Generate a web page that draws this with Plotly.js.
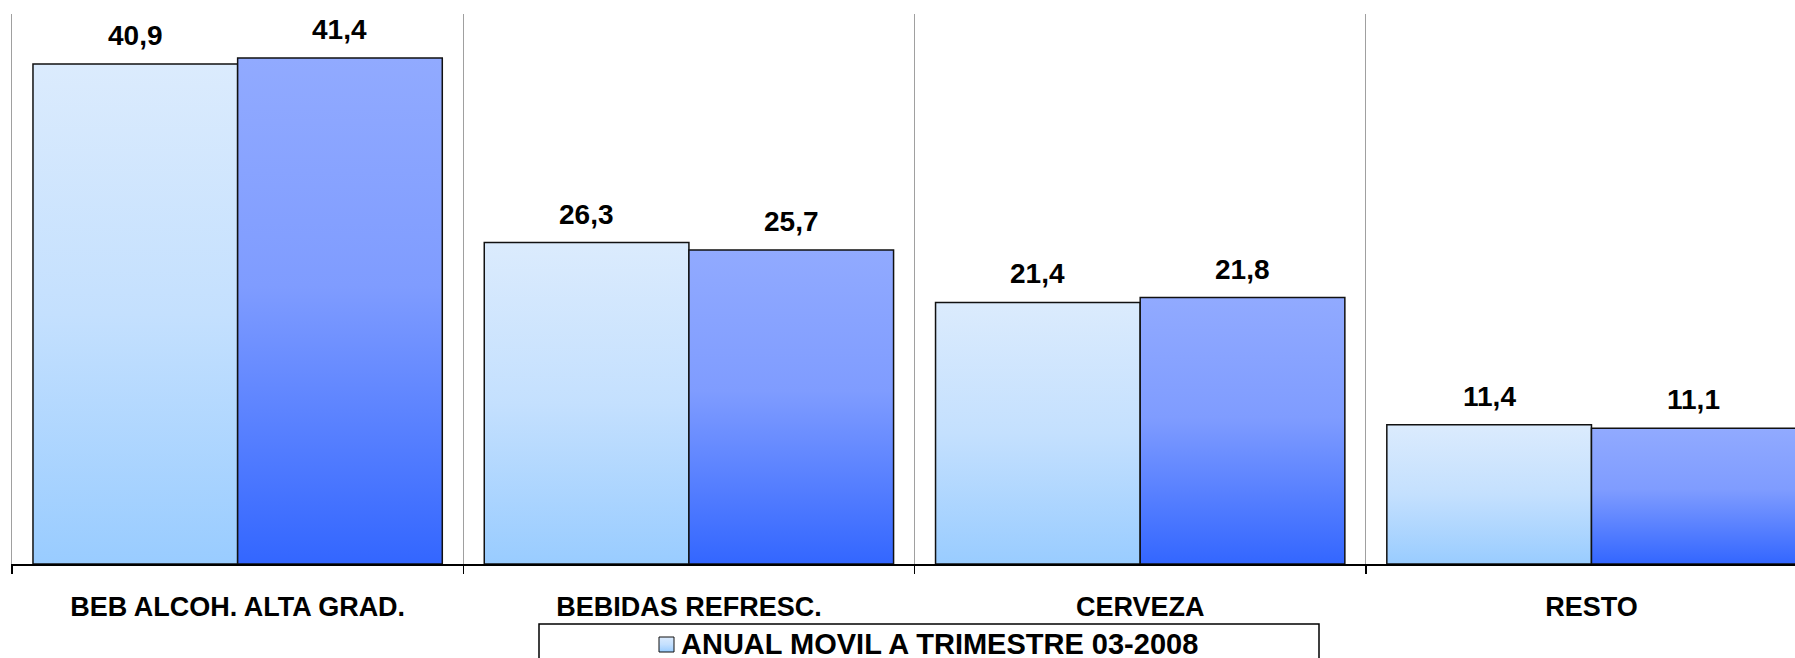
<!DOCTYPE html>
<html>
<head>
<meta charset="utf-8">
<script src="https://cdn.plot.ly/plotly-3.0.1.min.js"></script>
<style>
  html, body { margin: 0; padding: 0; background: #ffffff; overflow: hidden; }
  #chart { width: 1795px; height: 658px; }
</style>
</head>
<body>
<svg width="0" height="0" style="position:absolute">
  <defs>
    <linearGradient id="gradLight" x1="0" y1="0" x2="0" y2="1">
      <stop offset="0" stop-color="#dbebfd"/>
      <stop offset="0.5" stop-color="#c4e0fe"/>
      <stop offset="1" stop-color="#99ccff"/>
    </linearGradient>
    <linearGradient id="gradDark" x1="0" y1="0" x2="0" y2="1">
      <stop offset="0" stop-color="#91aaff"/>
      <stop offset="0.45" stop-color="#7f9cff"/>
      <stop offset="1" stop-color="#3366ff"/>
    </linearGradient>
  </defs>
</svg>
<div id="chart"></div>
<script>
// ---- data ----
const categories = ['BEB ALCOH. ALTA GRAD.', 'BEBIDAS REFRESC.', 'CERVEZA', 'RESTO'];
const series1Name = 'ANUAL MOVIL A TRIMESTRE 03-2008';
const series1 = [40.9, 26.3, 21.4, 11.4];
const series2Name = 'Serie 2';
const series2 = [41.4, 25.7, 21.8, 11.1];

// ---- style ----
const FONT = 'Arial, "Liberation Sans", sans-serif';
const BARGAP = 0.093;
const barHalf = (1 - BARGAP) / 4; // center offset of each bar in a group of 2
const fmt = v => v.toFixed(1).replace('.', ',');
// plot-area geometry (px) used to place the hand-made legend
const PL = 12, PW = 1783, PB = 564, PH = 550;
const px2x = p => (p - PL) / PW;
const px2y = p => (PB - p) / PH;

const traces = [
  {
    type: 'bar', name: series1Name, x: categories, y: series1,
    marker: { color: '#c4e0fe', line: { color: '#111111', width: 1.5 } },
    hoverinfo: 'skip', showlegend: false
  },
  {
    type: 'bar', name: series2Name, x: categories, y: series2,
    marker: { color: '#7f9cff', line: { color: '#111111', width: 1.5 } },
    hoverinfo: 'skip', showlegend: false
  }
];

const annotations = [];
[series1, series2].forEach((s, si) => {
  s.forEach((v, i) => {
    annotations.push({
      x: i + (si === 0 ? -barHalf : barHalf), y: v, xref: 'x', yref: 'y',
      text: fmt(v), showarrow: false, yanchor: 'bottom', yshift: 11,
      font: { family: FONT, size: 28, color: '#000000', weight: 'bold' }
    });
  });
});
// legend text (legend box drawn as shapes below)
annotations.push({
  xref: 'paper', yref: 'paper', x: px2x(679), y: px2y(644),
  xanchor: 'left', yanchor: 'middle', showarrow: false,
  text: series1Name,
  font: { family: FONT, size: 29, color: '#000000', weight: 'bold' }
});

const layout = {
  width: 1795, height: 658,
  margin: { l: 12, r: 0, t: 14, b: 94 },
  paper_bgcolor: '#ffffff', plot_bgcolor: '#ffffff',
  barmode: 'group', bargap: BARGAP, bargroupgap: 0,
  showlegend: false,
  xaxis: {
    type: 'category', range: [-0.5, 3.451], fixedrange: true, automargin: false,
    tickangle: 0,
    tickson: 'boundaries', ticks: 'outside', ticklen: 8, tickwidth: 1.5, tickcolor: '#000000',
    showgrid: true, gridcolor: '#a0a0a0', gridwidth: 1,
    showline: true, linecolor: '#000000', linewidth: 2,
    ticklabelstandoff: 18,
    tickfont: { family: FONT, size: 27, color: '#000000', weight: 'bold' },
    zeroline: false
  },
  yaxis: {
    range: [0, 45], fixedrange: true, automargin: false,
    showticklabels: false, ticks: '', showgrid: false, zeroline: false,
    showline: true, linecolor: '#a0a0a0', linewidth: 1
  },
  annotations: annotations,
  shapes: [
    {
      type: 'rect', xref: 'paper', yref: 'paper',
      x0: px2x(539), x1: px2x(1319), y0: px2y(624), y1: px2y(700),
      line: { color: '#000000', width: 1.5 }, fillcolor: 'rgba(0,0,0,0)'
    },
    {
      type: 'rect', xref: 'paper', yref: 'paper',
      x0: px2x(659), x1: px2x(674), y0: px2y(637), y1: px2y(652),
      line: { color: '#111111', width: 1 }, fillcolor: '#c4e0fe'
    }
  ]
};

Plotly.newPlot('chart', traces, layout, { displayModeBar: false, staticPlot: true }).then(gd => {
  const grads = ['url(#gradLight)', 'url(#gradDark)'];
  gd.querySelectorAll('.barlayer .trace.bars').forEach((tr, i) => {
    tr.querySelectorAll('path').forEach(p => { p.style.fill = grads[i]; });
  });
  const shapePaths = gd.querySelectorAll('.shapelayer path');
  if (shapePaths.length > 1) shapePaths[1].style.fill = grads[0];
});
</script>
</body>
</html>
